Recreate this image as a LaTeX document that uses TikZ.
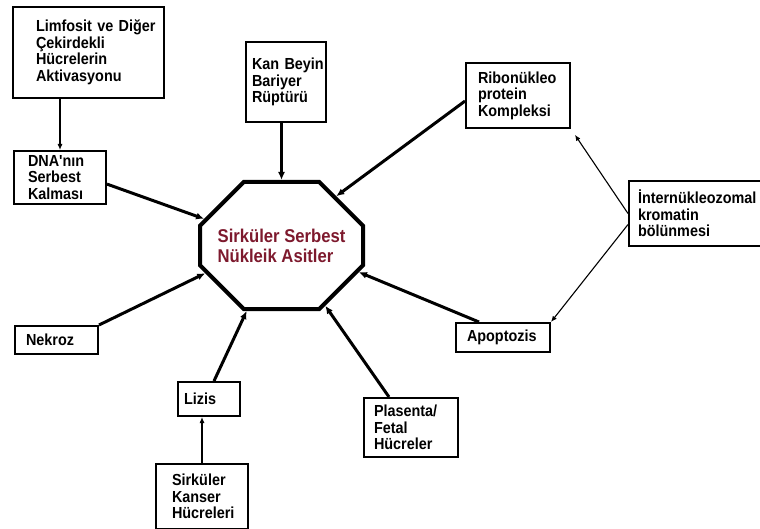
\documentclass[tikz,border=0pt]{standalone}
\usepackage{fontspec}
\newfontfamily\labelfont{Liberation Sans}[FakeStretch=0.9]
\usetikzlibrary{arrows.meta,shapes.misc}
\definecolor{hubred}{RGB}{125,25,45}

\begin{document}
\begin{tikzpicture}[x=1pt, y=-1pt,
    cause/.style={draw, line width=2pt, anchor=north west, inner sep=0pt,
      align=left, font=\labelfont\bfseries\fontsize{16}{16.5}\selectfont},
    textpad/.style={execute at begin node={\setlength{\leftskip}{#1}}},
    hub/.style={draw, line width=4pt, chamfered rectangle,
      chamfered rectangle xsep=23pt, chamfered rectangle ysep=27pt,
      minimum width=163pt, minimum height=127pt, inner sep=0pt, align=left,
      text=hubred, font=\labelfont\bfseries\fontsize{18.5}{20}\selectfont},
    feed/.style={-{Latex[length=8pt,width=7pt]}, line width=3pt},
    link/.style={-{Latex[length=6pt,width=5pt]}, line width=1.1pt}]
  \useasboundingbox (0,0) rectangle (760,529);

  \node[hub] (sna) at (281.5,245.5) {Sirküler Serbest\\Nükleik Asitler};

  \node[cause, textpad=23pt, text width=151pt, minimum height=91pt] (lim) at (12,6)
    {Limfosit~ve~Diğer\\Çekirdekli\\Hücrelerin\\Aktivasyonu};
  \node[cause, textpad=6pt, text width=80pt, minimum height=80pt] (kbb) at (245,41)
    {Kan~Beyin\\Bariyer\\Rüptürü};
  \node[cause, textpad=14pt, text width=92pt, minimum height=53pt] (dna) at (13,150)
    {DNA'nın\\Serbest\\Kalması};
  \node[cause, textpad=12pt, text width=104pt, minimum height=65pt] (ribo) at (465,62)
    {Ribonükleo\\protein\\Kompleksi};
  \node[cause, textpad=9pt, text width=150pt, minimum height=65pt] (inter) at (628,180)
    {İnternükleozomal\\kromatin\\bölünmesi};
  \node[cause, textpad=11pt, text width=83pt, minimum height=28pt] (nek) at (14,325) {Nekroz};
  \node[cause, textpad=6pt, text width=62pt, minimum height=34pt] (liz) at (177,381) {Lizis};
  \node[cause, textpad=16pt, text width=92pt, minimum height=65pt] (kanser) at (155,463)
    {Sirküler\\Kanser\\Hücreleri};
  \node[cause, textpad=10pt, text width=94pt, minimum height=59pt] (pla) at (363,397)
    {Plasenta/\\Fetal\\Hücreler};
  \node[cause, textpad=11pt, text width=94pt, minimum height=29pt] (apo) at (455,322) {Apoptozis};

  % arrows into the hub
  \draw[feed] (kbb.south -| sna.north) -- (sna.north);
  \draw[feed] (dna.-8) -- (sna.161);
  \draw[feed] (ribo.186) -- (sna.42);
  \draw[feed] ([xshift=-24pt]apo.north) -- (sna.-19);
  \draw[feed] (nek.north east) -- (sna.200);
  \draw[feed] ([xshift=5pt]liz.north) -- (sna.-118);
  \draw[feed] ([xshift=-22pt]pla.north) -- (sna.-54);

  % thin arrows between causes
  \draw[link] (lim.south -| dna.north) -- (dna.north);
  \draw[link, shorten >=7pt] (inter.west) -- (ribo.south east);
  \draw[link] ([yshift=-11pt]inter.west) -- (apo.north east);
  \draw[link] (kanser.north) -- (kanser.north |- liz.south);
\end{tikzpicture}
\end{document}
